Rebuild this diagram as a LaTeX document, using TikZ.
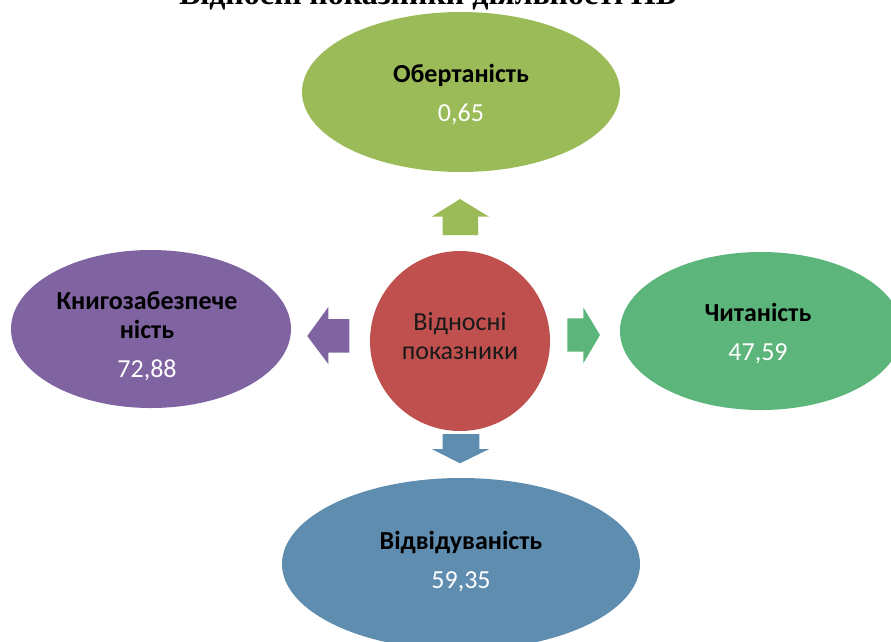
\documentclass[tikz,border=0pt]{standalone}
\usepackage{fontspec}
\setmainfont{Carlito}
\newfontfamily\titlefont{Liberation Serif}
\usetikzlibrary{shapes.geometric}
\definecolor{cgreen}{HTML}{9BBB59}
\definecolor{cpurple}{HTML}{8064A2}
\definecolor{cteal}{HTML}{5CB67C}
\definecolor{cblue}{HTML}{5E8DAF}
\definecolor{cred}{HTML}{C0504D}
\tikzset{
  ell/.style={ellipse, draw=none, inner sep=0pt},
  lbl/.style={align=center, font=\fontsize{26}{29}\selectfont, text=black}
}
\newcommand{\valtext}[1]{\\[10pt]{\color{white}\mdseries #1}}
\begin{document}
\begin{tikzpicture}[x=1pt,y=-1pt]
\useasboundingbox (0,0) rectangle (891,641);
\begin{scope}
\clip (0,0) rectangle (891,641);
% title (cropped at top)
\node[font=\titlefont\bfseries\fontsize{32}{36}\selectfont, anchor=base] (title) at (428,4.5) {Відносні показники діяльності ПБ};
% ellipses
\node[ell, fill=cgreen, minimum width=318, minimum height=160] (obert) at (461,92) {};
\node[ell, fill=cpurple, minimum width=280, minimum height=158] (knyh) at (151,329) {};
\node[ell, fill=cteal, minimum width=282, minimum height=158] (chyt) at (761,331) {};
\node[ell, fill=cblue, minimum width=358, minimum height=172] (vidv) at (461,564) {};
\node[circle, fill=cred, inner sep=0pt, minimum size=180] (centr) at (460,341) {};
\end{scope}
% block arrows
\fill[cgreen] (442.7,235) -- (442.7,216.7) -- (431.7,216.7) -- (460,199) -- (489,216.7) -- (478,216.7) -- (478,235) -- cycle;
\fill[cpurple] (349.3,319) -- (328.3,319) -- (328.3,307) -- (307.3,336) -- (328.3,364) -- (328.3,352.7) -- (349.3,352.7) -- cycle;
\fill[cteal] (567.3,318.3) -- (583.3,318.3) -- (583.3,307.3) -- (600,335) -- (583.3,363.3) -- (583.3,351.7) -- (567.3,351.7) -- cycle;
\fill[cblue] (442.7,434) -- (479.3,434) -- (479.3,449) -- (489.3,449) -- (460,463.3) -- (431.7,449) -- (442.7,449) -- cycle;
% labels
\node[lbl] (tobert) at (461,95) {\textbf{Обертаність}\valtext{0,65}};
\node[lbl] (tknyh) at (147,336) {\textbf{Книгозабезпече}\\\textbf{ність}\valtext{72,88}};
\node[lbl] (tchyt) at (758,334) {\textbf{Читаність}\valtext{47,59}};
\node[lbl] (tvidv) at (461,562) {\textbf{Відвідуваність}\valtext{59,35}};
\node[lbl, text=black!90] (tcentr) at (460,336) {Відносні\\показники};
\end{tikzpicture}
\end{document}
